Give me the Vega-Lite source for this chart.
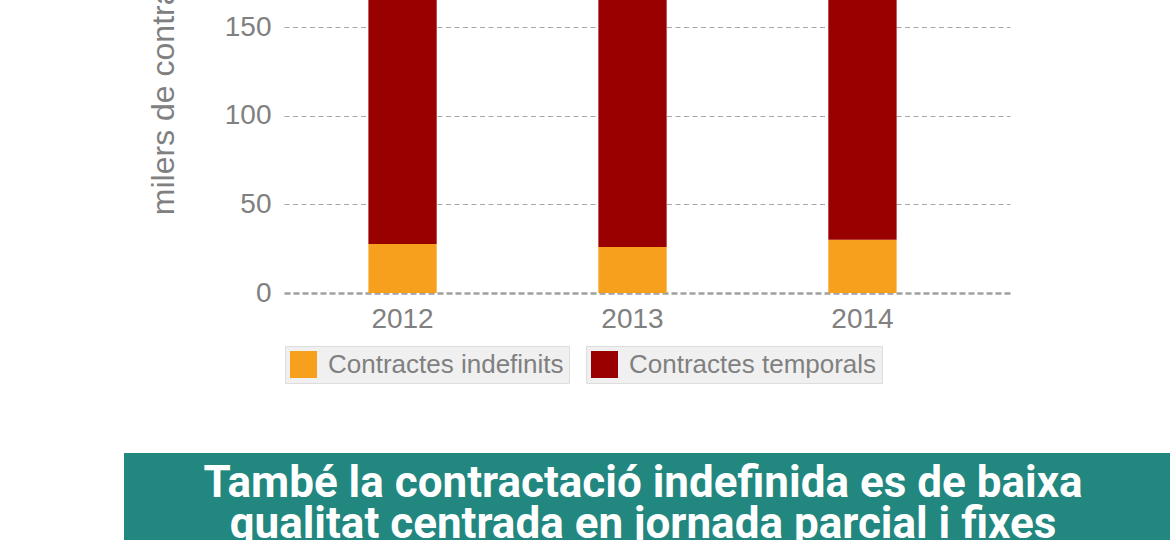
{
  "$schema": "https://vega.github.io/schema/vega-lite/v6.json",
  "padding": {"left": 124, "top": -164, "right": 0, "bottom": 0},
  "background": "white",
  "config": {"view": {"stroke": null}, "font": "Liberation Sans"},
  "spacing": 69,
  "vconcat": [
    {
      "width": 886,
      "height": 443,
      "data": {"values": [
        {"year": "2012", "type": "Contractes indefinits", "value": 27.6},
        {"year": "2012", "type": "Contractes temporals", "value": 185},
        {"year": "2013", "type": "Contractes indefinits", "value": 25.9},
        {"year": "2013", "type": "Contractes temporals", "value": 195},
        {"year": "2014", "type": "Contractes indefinits", "value": 30.1},
        {"year": "2014", "type": "Contractes temporals", "value": 205}
      ]},
      "transform": [
        {"stack": "value", "groupby": ["year"], "sort": [{"field": "type", "order": "ascending"}], "as": ["v0", "v1"]}
      ],
      "encoding": {
        "x": {
          "field": "year", "type": "nominal", "title": null,
          "scale": {"range": [160, 886], "paddingInner": 0.703, "paddingOuter": 0.43, "align": 0.4267},
          "axis": {"labelFontSize": 28, "labelColor": "#808080", "labelPadding": 12.5, "ticks": false, "labelAngle": 0, "grid": false, "domainColor": "#a0a0a0", "domainDash": [6, 3], "domainWidth": 2.5}
        },
        "y": {
          "field": "v0", "type": "quantitative", "title": "milers de contractes",
          "scale": {"domain": [0, 250]},
          "axis": {
            "values": [0, 50, 100, 150, 200, 250],
            "offset": -160,
            "domain": false, "ticks": false,
            "labelFontSize": 28, "labelColor": "#808080", "labelPadding": 13,
            "gridColor": "#a6a6a6", "gridDash": [5, 3.5], "gridWidth": 1.2,
            "gridOpacity": {"condition": {"test": "datum.value === 0", "value": 0}, "value": 1},
            "titleFontSize": 32, "titleFontWeight": "normal", "titleColor": "#808080",
            "titleX": -111, "titleY": 221.5, "titleAngle": -90, "titleAlign": "center", "titleBaseline": "alphabetic"
          }
        },
        "y2": {"field": "v1"}
      },
      "layer": [
        {
          "transform": [{"filter": "datum.type === 'Contractes indefinits'"}],
          "mark": {"type": "bar"},
          "encoding": {
            "color": {
              "field": "type", "type": "nominal",
              "scale": {"range": ["#F7A01E"]},
              "legend": {"orient": "none", "legendX": 161, "legendY": 496, "direction": "horizontal",
                "title": "\u00a0", "titleOrient": "right", "titleFontSize": 26, "titlePadding": 0,
                "fillColor": "#f0f0f0", "strokeColor": "#dddddd", "padding": 5,
                "symbolType": "square", "symbolSize": 729, "symbolStrokeWidth": 0,
                "labelFontSize": 26, "labelColor": "#808080", "labelOffset": 11, "labelLimit": 600}
            }
          }
        },
        {
          "transform": [{"filter": "datum.type === 'Contractes temporals'"}],
          "mark": {"type": "bar"},
          "encoding": {
            "color": {
              "field": "type", "type": "nominal",
              "scale": {"range": ["#990000"]},
              "legend": {"orient": "none", "legendX": 462, "legendY": 496, "direction": "horizontal",
                "title": "\u00a0", "titleOrient": "right", "titleFontSize": 26, "titlePadding": 0,
                "fillColor": "#f0f0f0", "strokeColor": "#dddddd", "padding": 5,
                "symbolType": "square", "symbolSize": 729, "symbolStrokeWidth": 0,
                "labelFontSize": 26, "labelColor": "#808080", "labelOffset": 11, "labelLimit": 600}
            }
          }
        }
      ],
      "resolve": {"scale": {"color": "independent"}, "legend": {"color": "independent"}}
    },
    {
      "width": 1060,
      "height": 88,
      "view": {"fill": "#21877F", "stroke": null},
      "data": {"values": [
        {"text": "També la contractació indefinida es de baixa\nqualitat centrada en jornada parcial i fixes"}
      ]},
      "mark": {"type": "text", "lineBreak": "\n", "font": "Roboto", "fontWeight": "bold", "fontSize": 44, "color": "white", "baseline": "alphabetic", "align": "center", "lineHeight": 41, "dx": -11},
      "encoding": {"text": {"field": "text", "type": "nominal"}}
    }
  ]
}
